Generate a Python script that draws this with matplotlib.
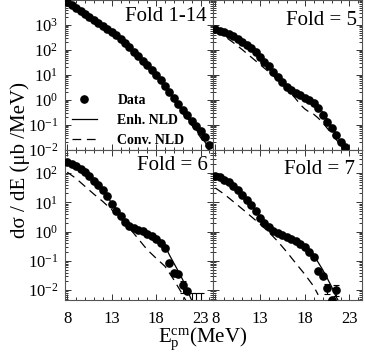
import matplotlib
matplotlib.use("Agg")
import matplotlib.pyplot as plt
from matplotlib.ticker import LogLocator, NullFormatter, LogFormatterMathtext, MultipleLocator, FixedLocator
from matplotlib.lines import Line2D

plt.rcParams['font.family'] = ['Liberation Serif', 'DejaVu Serif']
plt.rcParams['mathtext.fontset'] = 'stix'

# ---------------- data ----------------
# Fold 1-14
f14_E = [8.0, 8.5, 9.0, 9.5, 10.0, 10.5, 11.0, 11.5, 12.0, 12.5, 13.0, 13.5, 14.0, 14.5, 15.0, 15.5,
         16.0, 16.5, 17.0, 17.5, 18.0, 18.5, 19.0, 19.5, 20.0, 20.5, 21.0, 21.5, 22.0, 22.5, 23.0, 23.5, 24.0]
f14_val = [8300, 6300, 4900, 3700, 2800, 2140, 1620, 1230, 930, 710, 540, 390, 275, 190, 126, 83,
           55, 36, 24, 15.8, 10.0, 6.3, 3.7, 2.1, 1.2, 0.69, 0.40, 0.24, 0.148, 0.089, 0.056, 0.032, 0.016]
f14_line_E = [8, 9, 10, 11, 12, 13, 14, 15, 16, 17, 18, 19, 20, 21, 22, 23, 24]
f14_enh = [8100, 4900, 2800, 1620, 930, 540, 275, 126, 55, 24, 10.0, 3.5, 1.07, 0.33, 0.112, 0.038, 0.0112]
f14_conv = [7800, 4700, 2700, 1560, 900, 520, 265, 120, 52, 22.5, 9.3, 3.2, 0.95, 0.29, 0.10, 0.032, 0.0089]

# Fold = 5
f5_E = [8.0, 8.5, 9.0, 9.5, 10.0, 10.5, 11.0, 11.5, 12.0, 12.5, 13.0, 13.5, 14.0, 14.5, 15.0,
        15.5, 16.0, 16.5, 17.0, 17.5, 18.0, 18.5, 19.0, 19.5, 20.0, 20.5, 21.0, 21.5, 22.0, 22.5]
f5_val = [676, 589, 525, 437, 363, 282, 214, 158, 117, 81, 54, 34, 23, 13.5, 8.5,
          5.4, 3.4, 2.5, 1.95, 1.55, 1.23, 1.0, 0.74, 0.47, 0.25, 0.135, 0.074, 0.040, 0.021, 0.0135]
f5_enh_E = [8, 9, 10, 11, 12, 13, 14, 15, 16, 17, 18, 19, 19.5, 20, 20.5, 21, 21.5, 22, 22.5]
f5_enh = [700, 525, 355, 209, 112, 52, 22.4, 8.9, 3.5, 2.0, 1.26, 0.79, 0.56, 0.33, 0.178, 0.089, 0.045, 0.021, 0.010]
f5_conv_E = [8, 9, 10, 11, 12, 13, 14, 15, 16, 17, 17.5, 18, 18.5, 19, 19.5, 20, 21, 22, 22.5]
f5_conv = [589, 363, 200, 105, 52.5, 26.3, 13.2, 6.3, 2.8, 1.12, 0.66, 0.44, 0.33, 0.27, 0.19, 0.126, 0.045, 0.0158, 0.0089]

# Fold = 6
f6_E = [8.0, 8.5, 9.0, 9.5, 10.0, 10.5, 11.0, 11.5, 12.0, 12.5, 13.0, 13.5, 14.0, 14.5,
        15.0, 15.5, 16.0, 16.5, 17.0, 17.5, 18.0, 18.5, 19.0, 19.5, 20.0, 20.5, 21.0, 21.5]
f6_val = [238, 209, 173, 141, 108, 77, 55, 38, 25.5, 15.9, 8.7, 5.2, 3.3, 2.1,
          1.58, 1.32, 1.16, 1.01, 0.84, 0.72, 0.57, 0.40, 0.27, 0.084, 0.038, 0.035, 0.0145, 0.0093]
f6_err_E = [21.0]
f6_err_val = [0.0145]
f6_err_lo = [0.0065]
f6_err_hi = [0.0060]
f6_ul_E = [22.0, 22.5, 23.0]
f6_ul_val = [0.002, 0.002, 0.002]
f6_ul_hi = [0.0058, 0.0058, 0.0058]
f6_enh_E = [8, 9, 10, 11, 12, 13, 14, 15, 16, 17, 18, 19, 19.5, 20, 20.5, 21, 21.5, 22]
f6_enh = [251, 178, 107, 55, 25.7, 9.5, 3.5, 1.66, 1.17, 0.93, 0.63, 0.32, 0.158, 0.083, 0.044, 0.0224, 0.010, 0.0045]
f6_conv_E = [8, 9, 10, 11, 12, 13, 14, 15, 16, 17, 18, 19, 20, 21, 21.4]
f6_conv = [107, 65, 35, 19, 10.7, 5.6, 3.0, 1.32, 0.56, 0.24, 0.123, 0.065, 0.0224, 0.0069, 0.0041]

# Fold = 7
f7_E = [8.0, 8.5, 9.0, 9.5, 10.0, 10.5, 11.0, 11.5, 12.0, 12.5, 13.0, 13.5, 14.0, 14.5,
        15.0, 15.5, 16.0, 16.5, 17.0, 17.5, 18.0, 18.5, 19.0, 19.5, 20.0, 20.5, 21.0, 21.5]
f7_val = [78, 71, 59, 48, 37, 27, 18.2, 12.3, 7.8, 4.9, 3.0, 1.95, 1.38, 1.07,
          0.87, 0.74, 0.65, 0.56, 0.49, 0.37, 0.29, 0.20, 0.132, 0.044, 0.030, 0.0117, 0.0047, 0.0102]
f7_err_E = [20.5, 21.5]
f7_err_val = [0.0117, 0.0102]
f7_err_lo = [0.0045, 0.0040]
f7_err_hi = [0.0050, 0.0045]
f7_enh_E = [8, 9, 10, 11, 12, 13, 14, 15, 16, 17, 18, 19, 19.5, 20, 20.5, 21, 21.5, 22]
f7_enh = [83, 58, 36, 18.6, 8.3, 3.3, 1.48, 0.89, 0.66, 0.50, 0.32, 0.158, 0.089, 0.050, 0.026, 0.0132, 0.006, 0.0032]
f7_conv_E = [8, 9, 10, 11, 12, 13, 14, 15, 16, 17, 18, 19, 19.5]
f7_conv = [31, 19, 10.7, 6.0, 3.3, 1.82, 0.95, 0.46, 0.20, 0.083, 0.035, 0.0135, 0.0069]

panel_titles = ["Fold 1-14", "Fold = 5", "Fold = 6", "Fold = 7"]
xticks = [8, 13, 18, 23]
top_yticklabels = [1e-2, 1e-1, 1e0, 1e1, 1e2, 1e3]
bot_yticklabels = [1e-2, 1e-1, 1e0, 1e1, 1e2]

# ---------------- figure ----------------
W, H = 365, 358
fig = plt.figure(figsize=(W / 100, H / 100), dpi=100)

def rect(x0, y0, x1, y1):
    return [x0 / W, 1 - y1 / H, (x1 - x0) / W, (y1 - y0) / H]

ax_tl = fig.add_axes(rect(65, 0, 213, 150))
ax_tr = fig.add_axes(rect(213, 0, 362, 150))
ax_bl = fig.add_axes(rect(65, 150, 213, 300))
ax_br = fig.add_axes(rect(213, 150, 362, 300))

DASH = (0, (7, 4.5))
MS = 5.2
LW = 0.9

def draw(ax, E, val, enhE, enh, convE, conv):
    ax.plot(enhE, enh, color='black', lw=LW, zorder=2)
    ax.plot(convE, conv, color='black', lw=LW, ls=DASH, zorder=2)
    ax.plot(E, val, 'o', color='black', ms=MS, zorder=3, clip_on=True)

draw(ax_tl, f14_E, f14_val, f14_line_E, f14_enh, f14_line_E, f14_conv)
draw(ax_tr, f5_E, f5_val, f5_enh_E, f5_enh, f5_conv_E, f5_conv)
draw(ax_bl, f6_E, f6_val, f6_enh_E, f6_enh, f6_conv_E, f6_conv)
draw(ax_br, f7_E, f7_val, f7_enh_E, f7_enh, f7_conv_E, f7_conv)

ax_bl.errorbar(f6_err_E, f6_err_val, yerr=[f6_err_lo, f6_err_hi], fmt='none', ecolor='black',
               elinewidth=0.8, capsize=2.5, capthick=0.8)
ax_bl.errorbar(f6_ul_E, f6_ul_val, yerr=[[0] * len(f6_ul_E), f6_ul_hi], fmt='none', ecolor='black',
               elinewidth=0.8, capsize=2.5, capthick=0.8)
ax_br.errorbar(f7_err_E, f7_err_val, yerr=[f7_err_lo, f7_err_hi], fmt='none', ecolor='black',
               elinewidth=0.8, capsize=2.5, capthick=0.8)

for ax in (ax_tl, ax_tr, ax_bl, ax_br):
    ax.set_yscale('log')
    ax.set_xlim(7.75, 24.4)
    ax.xaxis.set_major_locator(FixedLocator(xticks))
    ax.xaxis.set_minor_locator(MultipleLocator(1))
    ax.yaxis.set_major_locator(LogLocator(base=10, numticks=20))
    ax.yaxis.set_minor_locator(LogLocator(base=10, subs=range(2, 10), numticks=20))
    ax.yaxis.set_minor_formatter(NullFormatter())
    ax.tick_params(which='both', direction='in', top=True, right=True, colors='#333333',
                   labelcolor='black', width=0.7)
    ax.tick_params(which='major', length=4)
    ax.tick_params(which='minor', length=2.5)
    for s in ax.spines.values():
        s.set_color('#555555')
        s.set_linewidth(0.8)

for ax in (ax_tl, ax_tr):
    ax.set_ylim(1e-2, 1e4)
    ax.tick_params(labelbottom=False)
for ax in (ax_bl, ax_br):
    ax.set_ylim(4.6e-3, 612)
    ax.tick_params(axis='x', labelsize=12, pad=8)

for ax in (ax_tr, ax_br):
    ax.tick_params(labelleft=False)

fmt = LogFormatterMathtext()
ax_tl.set_yticks(top_yticklabels + [1e4])
ax_tl.set_yticklabels([fmt(v) for v in top_yticklabels] + [''])
ax_bl.set_yticks(bot_yticklabels)
ax_bl.set_yticklabels([fmt(v) for v in bot_yticklabels])
for ax in (ax_tl, ax_bl):
    ax.tick_params(axis='y', labelsize=12, pad=5)
ax_tr.set_yticks(top_yticklabels + [1e4])
ax_br.set_yticks(bot_yticklabels)

# panel labels
title_pos = [(0.957, 0.955), (0.966, 0.925), (0.966, 0.962), (0.953, 0.93)]
for ax, t, (px, py) in zip((ax_tl, ax_tr, ax_bl, ax_br), panel_titles, title_pos):
    ax.text(px, py, t, transform=ax.transAxes, ha='right', va='top', fontsize=15)

# legend
handles = [Line2D([], [], marker='o', ls='none', color='black', ms=MS),
           Line2D([], [], color='black', lw=LW),
           Line2D([], [], color='black', lw=LW, ls=DASH)]
labels = ["Data", "Enh. NLD", "Conv. NLD"]
ax_tl.legend(handles, labels, loc='lower left', bbox_to_anchor=(0.03, 0.0), frameon=False,
             prop={'weight': 'bold', 'size': 10}, handlelength=1.75, handletextpad=1.5,
             labelspacing=0.5, borderpad=0.2, borderaxespad=0.0)

fig.text(20 / W, 1 - 160 / H, "dσ / dE (μb /MeV)", rotation=90, ha='center', va='center', fontsize=15)
fig.text(203 / W, 1 - 339 / H, r"$\mathregular{E_p^{cm}}$(MeV)", ha='center', va='center', fontsize=15)

fig.savefig("out.png", dpi=100)
